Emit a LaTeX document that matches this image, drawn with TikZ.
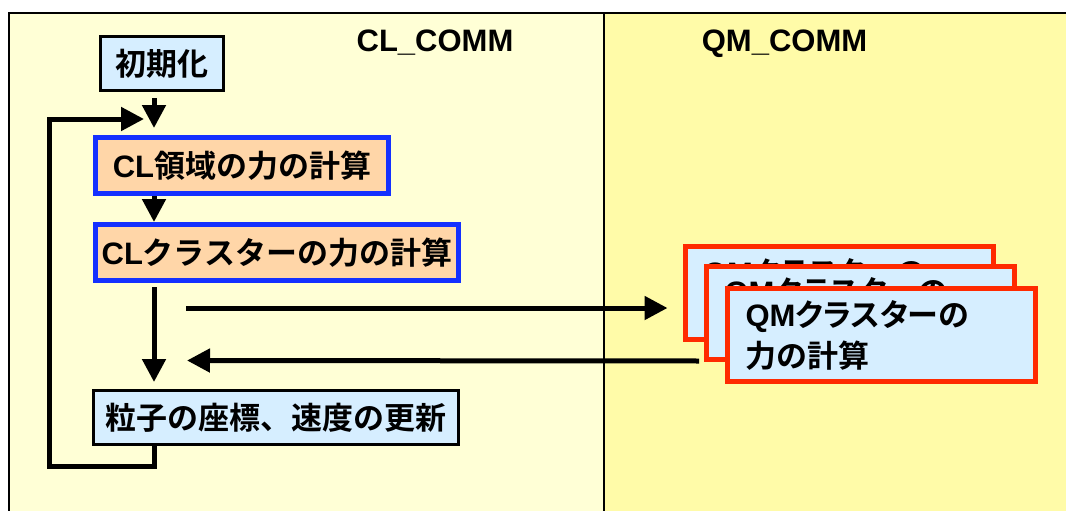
\documentclass[tikz,border=0pt]{standalone}
\usepackage{fontspec}
\setmainfont{Liberation Sans}
\newfontfamily\cjk{Noto Sans CJK JP}[BoldFont={Noto Sans CJK JP Bold}]
\usetikzlibrary{arrows.meta,calc}
\definecolor{clbg}{HTML}{FFFFD6}
\definecolor{qmbg}{HTML}{FFFBA8}
\definecolor{peach}{HTML}{FFD6A8}
\definecolor{lblue}{HTML}{D6EEFF}
\definecolor{bborder}{HTML}{1430FF}
\definecolor{rborder}{HTML}{FF2A00}
\newcommand\jb[1]{{\cjk\bfseries #1}}
\newcommand\jbp[1]{{\cjk\bfseries\addfontfeature{RawFeature=+palt}#1}}
\begin{document}
\begin{tikzpicture}[x=1pt,y=-1pt,
  arr/.style={line width=5pt,-{Triangle[width=23pt,length=23pt]}},
  basebox/.style={rectangle,inner sep=0pt,font=\bfseries\fontsize{31}{36}\selectfont},
  blackbox/.style={basebox,draw=black,line width=3pt,fill=lblue},
  bluebox/.style={basebox,draw=bborder,line width=5pt,fill=peach},
  redbox/.style={basebox,draw=rborder,line width=5pt,fill=lblue,
    minimum width=308pt,minimum height=93pt,text width=272pt,align=left,
    font=\bfseries\fontsize{31}{41}\selectfont},
  title/.style={font=\bfseries\fontsize{31}{36}\selectfont,inner sep=0pt}
]
\useasboundingbox (0,0) rectangle (1066,511);
\begin{scope}
\clip (0,0) rectangle (1066,511);
\path[fill=qmbg,draw=black,line width=2pt] (604,13) rectangle (1090,540);
\path[fill=clbg,draw=black,line width=2pt] (9,13) rectangle (604,540);
\end{scope}

\node[title,anchor=base] (clt) at (435,52) {CL\_COMM};
\node[title,anchor=base] (qmt) at (784.5,52) {QM\_COMM};

\node[blackbox,minimum width=123pt,minimum height=54pt] (init) at (162,63.5) {\jb{初期化}};
\node[bluebox,minimum width=293pt,minimum height=56pt] (cl1) at (242,165.5) {CL\jb{領域の力の計算}};
\node[bluebox,minimum width=363pt,minimum height=56pt] (cl2) at (277,252.5) {CL\jb{クラスターの力の計算}};
\node[blackbox,minimum width=365pt,minimum height=54pt] (upd) at (276,417.5) {\jb{粒子の座標、速度の更新}};

\node[redbox] (qmA) at (839,293) {QM\jbp{クラスターの}\\\jb{力の計算}};
\node[redbox] (qmB) at (860.5,312.5) {QM\jbp{クラスターの}\\\jb{力の計算}};
\node[redbox] (qmC) at (881.5,335) {QM\jbp{クラスターの}\\\jb{力の計算}};

\coordinate (cx) at (154,0);
\coordinate (lp1) at (49,466);
\coordinate (lp2) at (144,119);
\coordinate (out1) at (186,308);
\coordinate (in1) at ($(qmA.west)+(-15,15)$);
\coordinate (out2) at ($(qmB.west)+(-5,48.5)$);
\coordinate (in2) at (187,360.5);

\draw[arr] ($(init.south -| cx)+(0,6)$) -- ($(cl1.north -| cx)+(0,-7)$);
\draw[arr] (cl1.south -| cx) -- (cl2.north -| cx);
\draw[arr] ($(cl2.south -| cx)+(0,4)$) -- ($(upd.north -| cx)+(0,-7)$);
\draw[arr] (upd.south -| cx) |- (lp1) |- (lp2);
\draw[arr] (out1) -- (in1);
\draw[arr] (out2) -- (in2);
\end{tikzpicture}
\end{document}
